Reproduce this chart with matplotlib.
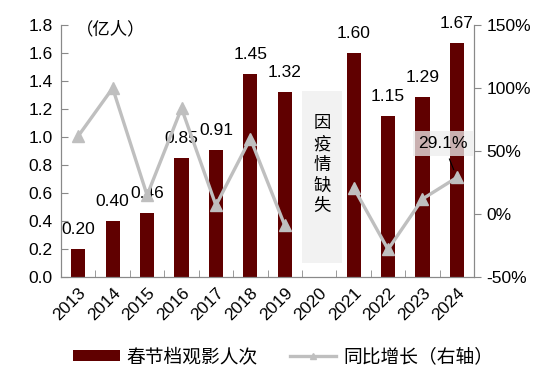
import numpy as np
import matplotlib
matplotlib.use("Agg")
import matplotlib.pyplot as plt
from matplotlib.patches import Rectangle, Patch
from matplotlib.lines import Line2D
from matplotlib.ticker import FuncFormatter

plt.rcParams["font.family"] = ["Liberation Sans", "Noto Sans CJK SC", "DejaVu Sans"]

years = ["2013", "2014", "2015", "2016", "2017", "2018", "2019", "2020",
         "2021", "2022", "2023", "2024"]
viewers = [0.20, 0.40, 0.46, 0.85, 0.91, 1.45, 1.32, np.nan,
           1.60, 1.15, 1.29, 1.67]
growth = [62, 100, 15, 84, 7, 60, -9, np.nan, 21, -28, 12, 29.1]

BAR_COLOR = "#600000"
LINE_COLOR = "#BFBFBF"
AXIS_COLOR = "#898989"
FS = 12.5

fig = plt.figure(figsize=(5.5, 3.75), dpi=100)
ax = fig.add_axes([0.111, 0.261, 0.751, 0.672])
ax2 = ax.twinx()

x = np.arange(len(years))
ax.bar(x, viewers, width=0.41, color=BAR_COLOR, zorder=2)

for xi, v in zip(x, viewers):
    if np.isnan(v):
        continue
    ax.annotate(f"{v:.2f}", (xi, v), xytext=(0, 14), textcoords="offset points",
                ha="center", va="center", fontsize=FS)

# gray box for the missing year
ax.add_patch(Rectangle((6.5, 0.1), 1.15, 1.23, facecolor="#F2F2F2",
                       edgecolor="none", zorder=1))
ax.text(7.08, 0.80, "因\n疫\n情\n缺\n失", ha="center", va="center",
        fontsize=12.5, linespacing=1.35, zorder=3)

ax.text(0.12, 0.985, "（亿人）", ha="center", va="center", fontsize=FS,
        transform=ax.transAxes)

ax2.plot(x, growth, color=LINE_COLOR, lw=2.4, marker="^", markersize=8,
         zorder=4)
ax2.annotate("29.1%", xy=(11, growth[-1]), xytext=(10.6, 56),
             ha="center", va="center", fontsize=FS,
             bbox=dict(boxstyle="square,pad=0.3", facecolor="#EDEDED",
                       edgecolor="none", alpha=0.75),
             arrowprops=dict(arrowstyle="-", color="black", lw=0.8,
                             shrinkA=2, shrinkB=6),
             annotation_clip=False)

ax.set_xlim(-0.5, len(years) - 0.5)
ax.set_ylim(0, 1.8)
ax.set_yticks(np.arange(0, 1.81, 0.2))
ax.yaxis.set_major_formatter(FuncFormatter(lambda v, _: f"{v:.1f}"))
ax2.set_ylim(-50, 150)
ax2.set_yticks([-50, 0, 50, 100, 150])
ax2.yaxis.set_major_formatter(FuncFormatter(lambda v, _: f"{v:.0f}%"))

ax.set_xticks(x)
ax.set_xticklabels(years, rotation=45, ha="right", rotation_mode="anchor",
                   fontsize=FS)
ax.set_xticks(np.arange(-0.5, len(years), 1), minor=True)
ax.tick_params(axis="x", which="major", length=0, pad=6)
ax.tick_params(axis="x", which="minor", direction="in", length=5,
               color=AXIS_COLOR)
ax.tick_params(axis="y", direction="in", length=5, color=AXIS_COLOR,
               labelsize=FS, pad=6)
ax2.tick_params(axis="y", direction="out", length=5, color=AXIS_COLOR,
                labelsize=FS, pad=4)

for a in (ax, ax2):
    a.spines["top"].set_visible(False)
    for s in ("left", "right", "bottom"):
        a.spines[s].set_color(AXIS_COLOR)
ax.set_zorder(ax2.get_zorder() - 1)
ax2.patch.set_visible(False)

handles = [Patch(facecolor=BAR_COLOR, edgecolor="none"),
           Line2D([], [], color=LINE_COLOR, lw=2.4, marker="^", markersize=5)]
fig.legend(handles, ["春节档观影人次", "同比增长（右轴）"], loc="center left",
           bbox_to_anchor=(73 / 550, 1 - 357 / 375), ncol=2, frameon=False,
           fontsize=13.5, borderpad=0, borderaxespad=0,
           handlelength=2.5, handleheight=0.55, columnspacing=1.7,
           handletextpad=0.35)

fig.savefig("out.png", dpi=100)
